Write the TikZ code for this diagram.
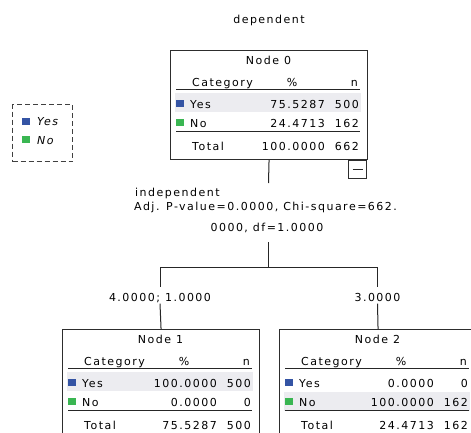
\documentclass[tikz,border=0pt]{standalone}
\usepackage{fontspec}
\newfontfamily\spssfont{DejaVu Sans}[LetterSpace=13.5]
\definecolor{rowshade}{RGB}{236,236,240}
\definecolor{catblue}{RGB}{52,84,164}
\definecolor{catgreen}{RGB}{58,182,82}
\definecolor{boxline}{RGB}{45,45,45}
\tikzset{
  txt/.style={inner sep=0pt, font=\spssfont\fontsize{11}{13}\selectfont, text=black},
  treebox/.style={draw=boxline, line width=1.1pt, fill=white, inner sep=0pt, anchor=north west, minimum width=197pt, minimum height=109pt},
  conn/.style={draw=black!85, line width=1pt},
  swatch/.style={inner sep=0pt, minimum width=7.5pt, minimum height=7.5pt, anchor=south west},
  branchlab/.style={txt, anchor=base, text height=12.5pt, text depth=0pt, inner ysep=2pt, inner xsep=2pt},
  rule/.style={draw=black!85, line width=0.9pt},
  thickrule/.style={draw=black!85, line width=1.5pt},
  legendbox/.style={draw=black!75, line width=1.3pt, dash pattern=on 5pt off 3pt, inner sep=0pt, anchor=north west, minimum width=60pt, minimum height=57pt},
  legtxt/.style={txt, anchor=base west, font=\spssfont\itshape\fontsize{11}{13}\selectfont},
}
% #1 name, #2 title, #3 yes pct, #4 yes n, #5 no pct, #6 no n, #7 total pct, #8 total n, #9 top of shaded row
\newcommand{\chaidnode}[9]{%
  \node[treebox] (#1) at (0,0) {};
  \fill[rowshade] (5,#9) rectangle (191,#9+19);
  \node[txt, anchor=base] (#1-title) at (98.5,14.5) {#2};
  \node[txt, anchor=base west] (#1-hcat) at (22,36.5) {Category};
  \node[txt, anchor=base] (#1-hpct) at (122,36.5) {\%};
  \node[txt, anchor=base east] (#1-hn) at (188,36.5) {n};
  \draw[rule] (6,39) -- (190,39);
  \node[swatch, fill=catblue] (#1-ysw) at (6,57.5) {};
  \node[txt, anchor=base west] (#1-yes) at (20,58.5) {Yes};
  \node[txt, anchor=base east] (#1-yp) at (155,58.5) {#3};
  \node[txt, anchor=base east] (#1-yn) at (189,58.5) {#4};
  \node[swatch, fill=catgreen] (#1-nsw) at (6,76.5) {};
  \node[txt, anchor=base west] (#1-no) at (20,77.5) {No};
  \node[txt, anchor=base east] (#1-np) at (155,77.5) {#5};
  \node[txt, anchor=base east] (#1-nn) at (189,77.5) {#6};
  \draw[thickrule] (6,81.5) -- (190,81.5);
  \node[txt, anchor=base west] (#1-tot) at (22,100) {Total};
  \node[txt, anchor=base east] (#1-tp) at (155,100) {#7};
  \node[txt, anchor=base east] (#1-tn) at (189,100) {#8};
}
\begin{document}
\begin{tikzpicture}[x=1pt, y=-1pt]
\useasboundingbox (0,0) rectangle (471,433);
\fill[white] (0,0) rectangle (471,433);

\node[txt, anchor=base] (dep) at (269,24) {dependent};

\begin{scope}[shift={(170,50)}]
  \chaidnode{n0}{Node 0}{75.5287}{500}{24.4713}{162}{100.0000}{662}{43}
\end{scope}
\node[draw=boxline, line width=1pt, inner sep=0pt, minimum width=18pt, minimum height=18pt, anchor=north east] (tog) at ([xshift=-1pt]n0.south east) {};
\draw[black!85, line width=1pt] ([xshift=-5pt]tog.center) -- ([xshift=5pt]tog.center);

\node[legendbox] (legend) at (12,104) {};
\node[swatch, fill=catblue] (lgy) at (22,125.5) {};
\node[legtxt] (lgyt) at (37,126) {Yes};
\node[swatch, fill=catgreen] (lgn) at (22,143.5) {};
\node[legtxt] (lgnt) at (37,144) {No};

\begin{scope}[shift={(62,329)}]
  \chaidnode{n1}{Node 1}{100.0000}{500}{0.0000}{0}{75.5287}{500}{43}
\end{scope}
\begin{scope}[shift={(279,329)}]
  \chaidnode{n2}{Node 2}{0.0000}{0}{100.0000}{162}{24.4713}{162}{62.5}
\end{scope}

% split label block
\node[inner sep=0pt, minimum width=272pt, minimum height=59pt, anchor=north] (splitbg) at (268.5,183) {};
\node[txt, anchor=base west] (indep) at (135,196) {independent};
\node[txt, anchor=base west] (adj) at (134,210) {Adj. P-value=0.0000, Chi-square=662.};
\node[txt, anchor=base] (df) at (267,231) {0000, df=1.0000};

\coordinate (split) at (268.5,267);
\coordinate (splitL) at (160,267);
\coordinate (splitR) at (377.5,267);
\node[branchlab] (lab1) at (160,301.5) {4.0000; 1.0000};
\node[branchlab] (lab2) at (377.5,301.5) {3.0000};

\draw[conn] (n0.south) -- (splitbg.north);
\draw[conn] (splitbg.south) -- (split);
\draw[conn] (splitL) -- (splitR);
\draw[conn] (splitL) -- (lab1.north);
\draw[conn] (lab1.south) -- (n1.north);
\draw[conn] (splitR) -- (lab2.north);
\draw[conn] (lab2.south) -- (n2.north);
\end{tikzpicture}
\end{document}
